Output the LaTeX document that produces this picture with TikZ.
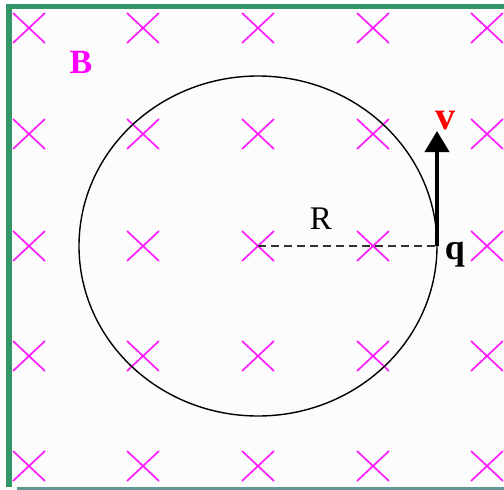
\documentclass[tikz,border=0pt]{standalone}
\usepackage{fontspec}
\setmainfont{Liberation Serif}
\usetikzlibrary{arrows.meta}
\definecolor{frameg}{RGB}{51,150,102}
\definecolor{framet}{RGB}{95,150,145}
\definecolor{crossm}{RGB}{255,30,255}
\definecolor{bmag}{RGB}{255,0,255}
\tikzset{
  crossmark/.style={draw=crossm, line width=1.7pt},
  lbl/.style={inner sep=0pt, anchor=base},
}
\begin{document}
\begin{tikzpicture}[x=1pt,y=-1pt]
\useasboundingbox (0,0) rectangle (504,490);
\fill[white!99!black] (0,0) rectangle (504,490);
% frame
\fill[frameg] (6,4) rectangle (12,487);
\fill[frameg] (6,4) rectangle (504,9);
\fill[framet] (17,487) rectangle (504,490);
% crosses
\foreach \cx in {29,143,258,373,487}{
  \foreach \cy in {28,134,246,356,466}{
    \draw[crossmark] (\cx-16,\cy-15) -- (\cx+16,\cy+15);
    \draw[crossmark] (\cx-16,\cy+15) -- (\cx+16,\cy-15);
  }
}
% circle
\coordinate (O) at (258,246);
\coordinate (Q) at (437,246);
\coordinate (V) at (437,131);
\draw[black, line width=1.4pt] (O) ellipse [x radius=179, y radius=170];
% radius
\draw[black!80, line width=2pt, dash pattern=on 8pt off 5pt] (O) -- (Q);
% velocity
\draw[black, line width=4pt, -{Triangle[width=24pt,length=21pt]}] (Q) -- (V);
% labels
\node[lbl, text=bmag] (B) at (81,73) {\fontsize{34}{36}\selectfont\bfseries B};
\node[lbl] (R) at (321,229) {\fontsize{33}{35}\selectfont R};
\node[lbl, text=red] (v) at (445,129) {\fontsize{40}{42}\selectfont\bfseries v};
\node[lbl] (q) at (455,259) {\fontsize{36}{38}\selectfont\bfseries q};
\end{tikzpicture}
\end{document}
